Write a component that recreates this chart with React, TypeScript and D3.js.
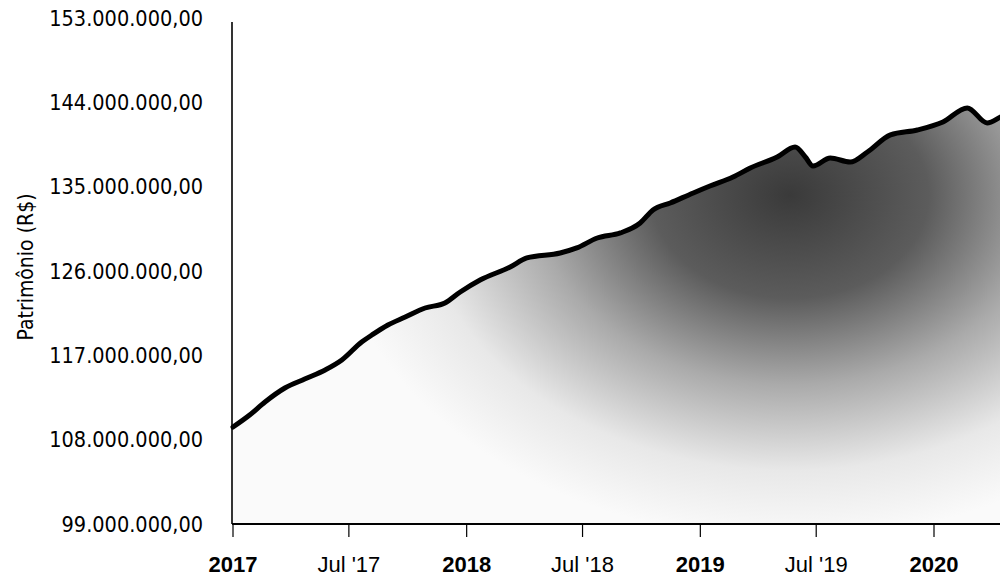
import React from "react";
import * as d3 from "d3";

const dates: string[] = [
  "2017-01-01", "2017-01-27", "2017-02-20", "2017-03-23", "2017-04-23", "2017-05-25",
  "2017-06-20", "2017-07-21", "2017-08-06", "2017-08-31", "2017-09-27", "2017-10-28",
  "2017-11-28", "2017-12-22", "2018-01-22", "2018-03-10", "2018-04-05", "2018-05-27",
  "2018-06-22", "2018-07-24", "2018-08-29", "2018-09-29", "2018-10-19", "2018-11-15",
  "2018-12-21", "2019-01-16", "2019-02-21", "2019-03-20", "2019-05-01", "2019-05-29",
  "2019-06-14", "2019-06-26", "2019-07-23", "2019-08-23", "2019-09-19", "2019-10-25",
  "2019-12-06", "2020-01-15", "2020-02-22", "2020-03-24", "2020-04-14", "2020-05-01",
];

// Patrimônio in millions of R$
const values: number[] = [
  109.35, 110.63, 112.02, 113.51, 114.47, 115.44,
  116.5, 118.42, 119.17, 120.24, 121.09, 122.05,
  122.59, 123.76, 125.04, 126.43, 127.39, 127.92,
  128.46, 129.52, 130.06, 131.12, 132.51, 133.26,
  134.33, 135.07, 136.03, 136.99, 138.17, 139.23,
  138.17, 137.21, 138.06, 137.63, 138.7, 140.52,
  141.05, 141.9, 143.4, 141.8, 142.44, 143.0,
];

const yTicks: number[] = [99, 108, 117, 126, 135, 144, 153];

const xTickDates: string[] = [
  "2017-01-01", "2017-07-01", "2018-01-01", "2018-07-01",
  "2019-01-01", "2019-07-01", "2020-01-01",
];
const xTickLabels: string[] = ["2017", "Jul '17", "2018", "Jul '18", "2019", "Jul '19", "2020"];

const W = 1000;
const H = 580;

const ptBR = d3.formatLocale({
  decimal: ",",
  thousands: ".",
  grouping: [3],
  currency: ["R$", ""],
});
const fmt = ptBR.format(",.2f");

export default function App() {
  const parse = d3.utcParse("%Y-%m-%d");
  const data = dates.map((d, i) => ({ date: parse(d) as Date, value: values[i] }));

  const x = d3
    .scaleUtc()
    .domain([parse("2017-01-01") as Date, parse("2020-01-01") as Date])
    .range([233, 934]);
  const y = d3.scaleLinear().domain([99, 153]).range([524, 18]);

  const line = d3
    .line<{ date: Date; value: number }>()
    .x((d) => x(d.date))
    .y((d) => y(d.value))
    .curve(d3.curveMonotoneX);
  const area = d3
    .area<{ date: Date; value: number }>()
    .x((d) => x(d.date))
    .y0(y(99))
    .y1((d) => y(d.value))
    .curve(d3.curveMonotoneX);

  const axisY = 524;
  const axisX = 232;

  return (
    <svg
      width={W}
      height={H}
      style={{ position: "absolute", left: 0, top: 0, background: "#fff" }}
    >
      <defs>
        <radialGradient
          id="shade"
          gradientUnits="userSpaceOnUse"
          cx={790}
          cy={195}
          r={420}
          gradientTransform="translate(790,195) scale(1.1,0.82) translate(-790,-195)"
        >
          <stop offset="0" stopColor="#3a3a3a" />
          <stop offset="0.3" stopColor="#5c5c5c" />
          <stop offset="0.55" stopColor="#aaaaaa" />
          <stop offset="0.8" stopColor="#e8e8e8" />
          <stop offset="1" stopColor="#fafafa" />
        </radialGradient>
      </defs>

      <path d={area(data) || ""} fill="url(#shade)" />
      <path
        d={line(data) || ""}
        fill="none"
        stroke="#000"
        strokeWidth={5}
        strokeLinejoin="round"
        strokeLinecap="round"
      />

      {/* y axis */}
      <line x1={axisX} x2={axisX} y1={22} y2={axisY} stroke="#000" strokeWidth={1.6} />
      {yTicks.map((t) => (
        <text
          key={t}
          x={203}
          y={y(t)}
          textAnchor="end"
          dominantBaseline="central"
          fontFamily="'DejaVu Sans Condensed', 'DejaVu Sans', sans-serif"
          fontSize={21.5}
          fill="#000"
        >
          {fmt(t * 1e6)}
        </text>
      ))}
      <text
        transform={`translate(33, 267) rotate(-90)`}
        textAnchor="middle"
        fontFamily="'DejaVu Sans Condensed', 'DejaVu Sans', sans-serif"
        fontSize={21}
        fill="#000"
      >
        Patrimônio (R$)
      </text>

      {/* x axis */}
      <line x1={axisX} x2={W} y1={axisY} y2={axisY} stroke="#000" strokeWidth={2} />
      {xTickDates.map((d, i) => {
        const xx = x(parse(d) as Date);
        const bold = i % 2 === 0;
        return (
          <g key={d}>
            <line x1={xx} x2={xx} y1={axisY} y2={537} stroke="#000" strokeWidth={1.2} />
            <text
              x={xx}
              y={572}
              textAnchor="middle"
              fontFamily="'Liberation Sans', Arial, sans-serif"
              fontWeight={bold ? "bold" : "normal"}
              fontSize={22}
              fill="#000"
            >
              {xTickLabels[i]}
            </text>
          </g>
        );
      })}
    </svg>
  );
}
